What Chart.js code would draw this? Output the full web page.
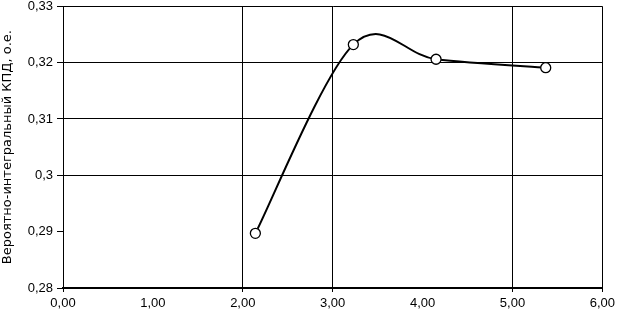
<!DOCTYPE html>
<html lang="ru">
<head>
<meta charset="UTF-8">
<title>КПД</title>
<style>
    html, body { margin: 0; padding: 0; background: #fff; }
    #wrap { width: 619px; height: 318px; }
</style>
</head>
<body>
<div id="wrap"><canvas id="chart" width="619" height="318"></canvas></div>
<script src="https://cdn.jsdelivr.net/npm/chart.js"></script>
<script>
// data
const xValues = [2.14, 3.23, 4.15, 5.37];
const yValues = [0.2897, 0.3232, 0.3206, 0.3191];
const yTitle = 'Вероятно-интегральный КПД, о.е.';
// grid lines that are missing in the original scan
const hiddenXGrid = [1, 4];
const hiddenYGrid = [0.29];

const points = xValues.map((x, i) => ({ x: x, y: yValues[i] }));
const same = (a, b) => Math.abs(a - b) < 1e-6;
const font = { family: 'Liberation Sans, Arial, sans-serif', size: 13 };
const titleFont = { family: 'DejaVu Sans, sans-serif', size: 13 };

// Excel-style smoothing: bezier control points at 1/6 of the neighbour chord
const excelSmooth = {
    id: 'excelSmooth',
    beforeDatasetDraw(chart, args) {
        const line = args.meta.dataset;
        const pts = line.points; // lets chart.js compute its own first
        const n = pts.length;
        for (let i = 0; i < n; i++) {
            const prev = pts[Math.max(i - 1, 0)];
            const next = pts[Math.min(i + 1, n - 1)];
            const dx = (next.x - prev.x) / 6, dy = (next.y - prev.y) / 6;
            pts[i].cp1x = pts[i].x - dx; pts[i].cp1y = pts[i].y - dy;
            pts[i].cp2x = pts[i].x + dx; pts[i].cp2y = pts[i].y + dy;
        }
        line._path = undefined;
    }
};

new Chart(document.getElementById('chart'), {
    type: 'scatter',
    data: {
        datasets: [{
            data: points,
            showLine: true,
            tension: 0.4,
            borderColor: '#000',
            borderWidth: 2,
            pointRadius: 5,
            pointBorderWidth: 1.3,
            pointBackgroundColor: '#fff',
            pointBorderColor: '#000'
        }]
    },
    plugins: [excelSmooth],
    options: {
        responsive: false,
        animation: false,
        layout: { padding: { top: 5, right: 14, left: 0, bottom: 0 } },
        plugins: { legend: { display: false }, tooltip: { enabled: false } },
        scales: {
            x: {
                type: 'linear', min: 0, max: 6,
                ticks: {
                    stepSize: 1, color: '#000', font: font, padding: 4,
                    callback: v => v.toFixed(2).replace('.', ',')
                },
                grid: {
                    color: c => hiddenXGrid.some(h => same(h, c.tick.value)) ? 'rgba(0,0,0,0)' : '#000',
                    tickColor: c => hiddenXGrid.some(h => same(h, c.tick.value)) ? 'rgba(0,0,0,0)' : '#000',
                    tickLength: 4, lineWidth: 1
                },
                border: { color: '#000', width: 2 },
                afterFit: s => { s.height = 30; }
            },
            y: {
                min: 0.28, max: 0.33,
                ticks: {
                    stepSize: 0.01, color: '#000', font: font, padding: 4,
                    callback: v => String(Math.round(v * 100) / 100).replace('.', ',')
                },
                grid: {
                    color: c => hiddenYGrid.some(h => same(h, c.tick.value)) ? 'rgba(0,0,0,0)' : '#000',
                    tickColor: '#000',
                    tickLength: 6, lineWidth: 1
                },
                border: { color: '#000', width: 1 },
                title: { display: true, text: yTitle, color: '#000', font: titleFont, padding: { top: 0, bottom: 2 } },
                afterFit: s => { s.width = 63; s.paddingTop = 0; s.paddingBottom = 0; }
            }
        }
    }
});
</script>
</body>
</html>
